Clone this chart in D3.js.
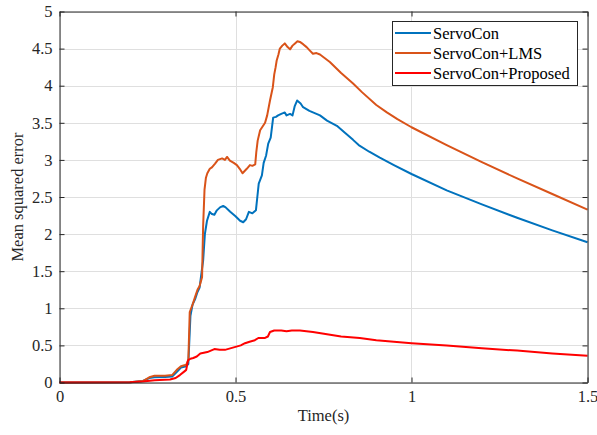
<!DOCTYPE html>
<html>
<head>
<meta charset="utf-8">
<script src="https://cdn.jsdelivr.net/npm/d3@7"></script>
<style>
  body { margin: 0; background: #fff; }
  svg { display: block; }
</style>
</head>
<body>
<svg id="chart" width="597" height="435" font-family="'Liberation Serif', 'Times New Roman', 'DejaVu Serif', serif"></svg>
<script>
const seriesNames = ["ServoCon", "ServoCon+LMS", "ServoCon+Proposed"];
const seriesColors = ["#0072BD", "#D95319", "#FF0000"];

const servoT = [0, 0.2, 0.237, 0.255, 0.27, 0.3, 0.32, 0.335, 0.345, 0.36, 0.366, 0.372, 0.378, 0.385, 0.392, 0.398, 0.404, 0.408, 0.413, 0.419, 0.427, 0.433, 0.44, 0.447, 0.456, 0.465, 0.472, 0.485, 0.5, 0.513, 0.522, 0.53, 0.538, 0.548, 0.558, 0.562, 0.566, 0.575, 0.58, 0.587, 0.593, 0.6, 0.607, 0.615, 0.621, 0.63, 0.64, 0.645, 0.655, 0.662, 0.668, 0.675, 0.685, 0.692, 0.71, 0.74, 0.76, 0.788, 0.81, 0.834, 0.85, 0.88, 0.91, 0.95, 1.0, 1.1, 1.2, 1.3, 1.4, 1.5];
const servoV = [0, 0.005, 0.02, 0.06, 0.07, 0.075, 0.08, 0.15, 0.2, 0.22, 0.25, 0.9, 1.05, 1.12, 1.22, 1.28, 1.5, 1.64, 2.0, 2.18, 2.3, 2.27, 2.26, 2.32, 2.36, 2.38, 2.36, 2.3, 2.24, 2.18, 2.16, 2.2, 2.3, 2.28, 2.32, 2.5, 2.68, 2.79, 2.96, 3.06, 3.22, 3.3, 3.57, 3.58, 3.6, 3.62, 3.64, 3.6, 3.62, 3.6, 3.72, 3.8, 3.76, 3.71, 3.66, 3.6, 3.53, 3.46, 3.37, 3.27, 3.2, 3.11, 3.03, 2.93, 2.81, 2.59, 2.4, 2.22, 2.05, 1.89];

const lmsT = [0, 0.2, 0.237, 0.255, 0.27, 0.3, 0.32, 0.335, 0.345, 0.36, 0.366, 0.37, 0.378, 0.385, 0.392, 0.398, 0.405, 0.408, 0.412, 0.416, 0.42, 0.427, 0.433, 0.442, 0.45, 0.462, 0.47, 0.476, 0.484, 0.495, 0.504, 0.512, 0.52, 0.526, 0.532, 0.541, 0.548, 0.556, 0.559, 0.563, 0.57, 0.577, 0.584, 0.59, 0.598, 0.606, 0.61, 0.614, 0.617, 0.622, 0.626, 0.633, 0.64, 0.648, 0.655, 0.662, 0.669, 0.676, 0.683, 0.692, 0.702, 0.712, 0.72, 0.73, 0.74, 0.768, 0.8, 0.834, 0.86, 0.9, 0.93, 0.96, 1.0, 1.1, 1.2, 1.3, 1.4, 1.5];
const lmsV = [0, 0.005, 0.02, 0.07, 0.09, 0.09, 0.1, 0.18, 0.22, 0.24, 0.3, 0.95, 1.05, 1.15, 1.25, 1.3, 1.42, 2.1, 2.6, 2.76, 2.82, 2.88, 2.9, 2.95, 3.0, 3.02, 3.0, 3.04, 2.99, 2.96, 2.93, 2.88, 2.82, 2.85, 2.88, 2.93, 2.92, 2.94, 3.1, 3.26, 3.4, 3.45, 3.5, 3.6, 3.8, 3.98, 4.15, 4.25, 4.34, 4.42, 4.5, 4.54, 4.57, 4.52, 4.49, 4.54, 4.57, 4.6, 4.59, 4.56, 4.52, 4.47, 4.43, 4.44, 4.42, 4.32, 4.17, 4.03, 3.91, 3.74, 3.64, 3.55, 3.44, 3.2, 2.97, 2.75, 2.54, 2.33];

const propT = [0, 0.2, 0.237, 0.27, 0.314, 0.33, 0.342, 0.355, 0.36, 0.365, 0.372, 0.38, 0.39, 0.4, 0.41, 0.42, 0.43, 0.44, 0.455, 0.47, 0.485, 0.5, 0.515, 0.527, 0.54, 0.555, 0.565, 0.584, 0.592, 0.598, 0.61, 0.63, 0.645, 0.66, 0.683, 0.72, 0.76, 0.8, 0.853, 0.9, 0.95, 1.0, 1.1, 1.2, 1.3, 1.4, 1.5];
const propV = [0, 0.005, 0.015, 0.03, 0.04, 0.06, 0.1, 0.15, 0.17, 0.3, 0.32, 0.33, 0.35, 0.39, 0.4, 0.41, 0.43, 0.45, 0.44, 0.44, 0.46, 0.48, 0.5, 0.53, 0.55, 0.57, 0.6, 0.6, 0.62, 0.68, 0.7, 0.7, 0.69, 0.7, 0.7, 0.68, 0.65, 0.62, 0.6, 0.57, 0.55, 0.53, 0.5, 0.46, 0.43, 0.39, 0.36];

const xTicks = [0, 0.5, 1, 1.5];
const yTicks = [0, 0.5, 1, 1.5, 2, 2.5, 3, 3.5, 4, 4.5, 5];

const plotLeft = 59.5, plotRight = 587.5, plotTop = 11.5, plotBottom = 382.5;
const axisColor = "#262626";
const serif = "'Liberation Serif', 'Times New Roman', 'DejaVu Serif', serif";

let svg = d3.select("#chart");

let x = d3.scaleLinear().domain([0, 1.5]).range([plotLeft, plotRight]);
let y = d3.scaleLinear().domain([0, 5]).range([plotBottom, plotTop]);

// grid
let grid = svg.append("g").attr("stroke", "#dfdfdf").attr("stroke-width", 1);
grid.selectAll("line.gx")
    .data(xTicks)
    .join("line")
    .attr("class", "gx")
    .attr("x1", d => Math.round(x(d)) + 0.5)
    .attr("x2", d => Math.round(x(d)) + 0.5)
    .attr("y1", plotTop)
    .attr("y2", plotBottom);
grid.selectAll("line.gy")
    .data(yTicks)
    .join("line")
    .attr("class", "gy")
    .attr("y1", d => Math.round(y(d)) + 0.5)
    .attr("y2", d => Math.round(y(d)) + 0.5)
    .attr("x1", plotLeft)
    .attr("x2", plotRight);

// lines
let series = [
    {name: seriesNames[0], color: seriesColors[0], t: servoT, v: servoV},
    {name: seriesNames[1], color: seriesColors[1], t: lmsT, v: lmsV},
    {name: seriesNames[2], color: seriesColors[2], t: propT, v: propV}
];
let line = d3.line()
    .x(d => x(d[0]))
    .y(d => y(d[1]));
svg.append("g")
    .selectAll("path")
    .data(series)
    .join("path")
    .attr("fill", "none")
    .attr("stroke", d => d.color)
    .attr("stroke-width", 2)
    .attr("stroke-linejoin", "round")
    .attr("d", d => line(d.t.map((t, i) => [t, d.v[i]])));

// axes, ticks pointing inward like matlab
function styleAxis(g) {
    g.attr("font-family", serif).attr("font-size", 16.5);
    g.select(".domain").attr("stroke", axisColor);
    g.selectAll(".tick line").attr("stroke", axisColor);
    g.selectAll(".tick text").attr("fill", axisColor);
}
svg.append("g")
    .attr("transform", "translate(0," + plotBottom + ")")
    .call(d3.axisBottom(x).tickValues(xTicks).tickFormat(d3.format("")).tickSizeInner(-5).tickSizeOuter(0).tickPadding(8))
    .call(styleAxis);
svg.append("g")
    .attr("transform", "translate(0," + plotTop + ")")
    .call(d3.axisTop(x).tickValues(xTicks).tickFormat("").tickSizeInner(-5).tickSizeOuter(0))
    .call(styleAxis);
svg.append("g")
    .attr("transform", "translate(" + plotLeft + ",0)")
    .call(d3.axisLeft(y).tickValues(yTicks).tickFormat(d3.format("")).tickSizeInner(-5).tickSizeOuter(0).tickPadding(7))
    .call(styleAxis);
svg.append("g")
    .attr("transform", "translate(" + plotRight + ",0)")
    .call(d3.axisRight(y).tickValues(yTicks).tickFormat("").tickSizeInner(-5).tickSizeOuter(0))
    .call(styleAxis);

// axis titles
svg.append("text")
    .attr("x", (plotLeft + plotRight) / 2)
    .attr("y", 421)
    .attr("text-anchor", "middle")
    .attr("fill", axisColor)
    .attr("font-family", serif)
    .attr("font-size", 16.5)
    .text("Time(s)");
svg.append("text")
    .attr("transform", "translate(23," + (plotTop + plotBottom) / 2 + ") rotate(-90)")
    .attr("text-anchor", "middle")
    .attr("fill", axisColor)
    .attr("font-family", serif)
    .attr("font-size", 16.5)
    .text("Mean squared error");

// legend
let legend = svg.append("g");
legend.append("rect")
    .attr("x", 392.5)
    .attr("y", 21.5)
    .attr("width", 185)
    .attr("height", 64)
    .attr("fill", "#fff")
    .attr("stroke", axisColor)
    .attr("stroke-width", 1);
let items = legend.selectAll("g.item")
    .data(series)
    .join("g")
    .attr("class", "item")
    .attr("transform", (d, i) => "translate(0," + (33 + i * 20) + ")");
items.append("line")
    .attr("x1", 395)
    .attr("x2", 431)
    .attr("stroke", d => d.color)
    .attr("stroke-width", 2);
items.append("text")
    .attr("x", 433)
    .attr("dy", "0.35em")
    .attr("fill", "#000")
    .attr("font-family", serif)
    .attr("font-size", 16.5)
    .text(d => d.name);
</script>
</body>
</html>
